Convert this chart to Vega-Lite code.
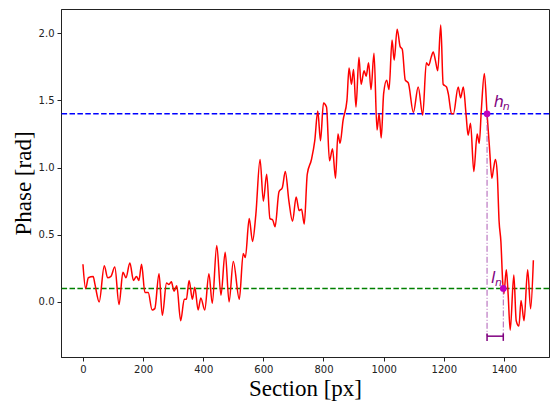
{
  "$schema": "https://vega.github.io/schema/vega-lite/v6.json",
  "width": 488,
  "height": 348,
  "autosize": {"type": "none"},
  "padding": {"left": 61, "top": 9, "right": 1, "bottom": 44},
  "background": "white",
  "config": {
    "view": {"stroke": "#222", "strokeWidth": 1},
    "axis": {
      "grid": false,
      "domainColor": "#222",
      "tickColor": "#222",
      "labelColor": "#222",
      "labelFont": "DejaVu Sans",
      "labelFontSize": 10,
      "tickSize": 4,
      "labelPadding": 3,
      "titleFont": "Liberation Serif",
      "titleFontSize": 23,
      "titleFontWeight": "normal",
      "titleColor": "black"
    }
  },
  "datasets": {
    "signal": [
      {"x": 0, "y": 0.28}, {"x": 9, "y": 0.10}, {"x": 18, "y": 0.18}, {"x": 34, "y": 0.19}, {"x": 40, "y": 0.13},
      {"x": 54, "y": 0.0}, {"x": 71, "y": 0.27}, {"x": 82, "y": 0.18}, {"x": 93, "y": 0.19}, {"x": 106, "y": 0.26},
      {"x": 120, "y": -0.02}, {"x": 133, "y": 0.22}, {"x": 143, "y": 0.18}, {"x": 156, "y": 0.29}, {"x": 168, "y": 0.16},
      {"x": 178, "y": 0.19}, {"x": 186, "y": 0.16}, {"x": 195, "y": 0.28}, {"x": 206, "y": 0.07}, {"x": 217, "y": 0.07},
      {"x": 230, "y": -0.06}, {"x": 239, "y": -0.05}, {"x": 253, "y": 0.21}, {"x": 264, "y": -0.10}, {"x": 278, "y": 0.14},
      {"x": 286, "y": 0.13}, {"x": 294, "y": 0.15}, {"x": 303, "y": 0.08}, {"x": 312, "y": 0.12}, {"x": 325, "y": -0.14},
      {"x": 337, "y": 0.02}, {"x": 344, "y": 0.02}, {"x": 353, "y": 0.16}, {"x": 364, "y": 0.02}, {"x": 372, "y": 0.11},
      {"x": 383, "y": -0.06}, {"x": 392, "y": 0.03}, {"x": 405, "y": -0.06}, {"x": 419, "y": 0.21}, {"x": 430, "y": -0.01},
      {"x": 445, "y": 0.42}, {"x": 459, "y": 0.05}, {"x": 473, "y": 0.37}, {"x": 486, "y": 0.0}, {"x": 500, "y": 0.30},
      {"x": 520, "y": 0.02}, {"x": 533, "y": 0.36}, {"x": 540, "y": 0.33}, {"x": 553, "y": 0.62}, {"x": 564, "y": 0.45},
      {"x": 575, "y": 0.65}, {"x": 589, "y": 1.06}, {"x": 600, "y": 0.75}, {"x": 611, "y": 0.95}, {"x": 622, "y": 0.62},
      {"x": 631, "y": 0.61}, {"x": 639, "y": 0.56}, {"x": 652, "y": 0.82}, {"x": 663, "y": 0.85}, {"x": 673, "y": 0.97},
      {"x": 685, "y": 0.75}, {"x": 697, "y": 0.60}, {"x": 709, "y": 0.78}, {"x": 719, "y": 0.68}, {"x": 727, "y": 0.69},
      {"x": 736, "y": 0.58}, {"x": 746, "y": 0.95}, {"x": 760, "y": 1.06}, {"x": 771, "y": 1.20}, {"x": 781, "y": 1.42},
      {"x": 790, "y": 1.20}, {"x": 800, "y": 1.48}, {"x": 810, "y": 1.45}, {"x": 820, "y": 1.05}, {"x": 830, "y": 1.14},
      {"x": 840, "y": 0.92}, {"x": 848, "y": 1.25}, {"x": 855, "y": 1.18}, {"x": 865, "y": 1.35}, {"x": 878, "y": 1.50},
      {"x": 885, "y": 1.74}, {"x": 893, "y": 1.62}, {"x": 900, "y": 1.73}, {"x": 908, "y": 1.45}, {"x": 918, "y": 1.82},
      {"x": 925, "y": 1.62}, {"x": 935, "y": 1.72}, {"x": 942, "y": 1.68}, {"x": 950, "y": 1.78}, {"x": 958, "y": 1.58},
      {"x": 968, "y": 1.85}, {"x": 978, "y": 1.28}, {"x": 985, "y": 1.40}, {"x": 992, "y": 1.22}, {"x": 1000, "y": 1.55},
      {"x": 1010, "y": 1.65}, {"x": 1018, "y": 1.58}, {"x": 1028, "y": 1.95}, {"x": 1035, "y": 1.80}, {"x": 1045, "y": 2.03},
      {"x": 1055, "y": 1.90}, {"x": 1062, "y": 1.88}, {"x": 1072, "y": 1.65}, {"x": 1082, "y": 1.63}, {"x": 1099, "y": 1.41},
      {"x": 1115, "y": 1.60}, {"x": 1130, "y": 1.39}, {"x": 1142, "y": 1.78}, {"x": 1150, "y": 1.76}, {"x": 1158, "y": 1.82},
      {"x": 1165, "y": 1.86}, {"x": 1172, "y": 1.80}, {"x": 1180, "y": 1.72}, {"x": 1190, "y": 2.06}, {"x": 1198, "y": 1.62},
      {"x": 1209, "y": 1.60}, {"x": 1215, "y": 1.55}, {"x": 1226, "y": 1.40}, {"x": 1232, "y": 1.40}, {"x": 1248, "y": 1.60},
      {"x": 1256, "y": 1.52}, {"x": 1265, "y": 1.60}, {"x": 1274, "y": 1.40}, {"x": 1281, "y": 1.24}, {"x": 1289, "y": 1.33},
      {"x": 1300, "y": 0.97}, {"x": 1311, "y": 1.25}, {"x": 1318, "y": 1.18}, {"x": 1325, "y": 1.43}, {"x": 1335, "y": 1.70},
      {"x": 1344, "y": 1.40}, {"x": 1352, "y": 1.15}, {"x": 1360, "y": 0.92}, {"x": 1366, "y": 1.00}, {"x": 1372, "y": 1.06},
      {"x": 1378, "y": 0.95}, {"x": 1384, "y": 0.60}, {"x": 1390, "y": 0.45}, {"x": 1396, "y": 0.15}, {"x": 1400, "y": 0.06},
      {"x": 1408, "y": 0.24}, {"x": 1414, "y": 0.06}, {"x": 1421, "y": -0.21}, {"x": 1433, "y": 0.20}, {"x": 1441, "y": -0.14},
      {"x": 1450, "y": -0.18}, {"x": 1457, "y": 0.01}, {"x": 1467, "y": -0.14}, {"x": 1479, "y": 0.24}, {"x": 1489, "y": -0.05},
      {"x": 1498, "y": 0.31}
    ],
    "levels": [
      {"level": "high", "y": 1.4},
      {"level": "low", "y": 0.1}
    ],
    "markers": [
      {"name": "h", "x": 1344, "y": 1.4},
      {"name": "l", "x": 1398, "y": 0.1}
    ],
    "bracket": [
      {"x": 1344, "x2": 1398, "y": -0.255}
    ],
    "caps": [
      {"x": 1344, "y": -0.235, "y2": -0.29},
      {"x": 1398, "y": -0.235, "y2": -0.29}
    ],
    "labels": [
      {"main": "h", "sub": "n", "x": 1366, "y": 1.45},
      {"main": "l", "sub": "n", "x": 1357, "y": 0.14}
    ]
  },
  "layer": [
    {
      "data": {"name": "levels"},
      "mark": {"type": "rule", "strokeWidth": 1.5, "strokeDash": [5.5, 2.4]},
      "encoding": {
        "y": {"field": "y", "type": "quantitative", "scale": {"domain": [-0.41, 2.18], "nice": false, "zero": false}},
        "color": {"field": "level", "type": "nominal", "scale": {"domain": ["high", "low"], "range": ["#0000ff", "#008000"]}, "legend": null}
      }
    },
    {
      "data": {"name": "signal"},
      "mark": {"type": "line", "color": "#ff0000", "strokeWidth": 1.5, "interpolate": "monotone", "clip": true},
      "encoding": {
        "x": {"field": "x", "type": "quantitative", "scale": {"domain": [-73, 1550], "nice": false, "zero": false},
              "axis": {"values": [0, 200, 400, 600, 800, 1000, 1200, 1400], "format": "d", "title": "Section [px]", "titlePadding": 3}},
        "y": {"field": "y", "type": "quantitative",
              "axis": {"values": [0, 0.5, 1, 1.5, 2], "format": ".1f", "title": "Phase [rad]", "titlePadding": 3}}
      }
    },
    {
      "data": {"name": "markers"},
      "mark": {"type": "rule", "color": "#a040a8", "opacity": 0.85, "strokeWidth": 1, "strokeDash": [6, 2, 1, 2]},
      "encoding": {
        "x": {"field": "x", "type": "quantitative"},
        "y": {"field": "y", "type": "quantitative"},
        "y2": {"datum": -0.255}
      }
    },
    {
      "data": {"name": "bracket"},
      "mark": {"type": "rule", "color": "#800080", "strokeWidth": 1.5},
      "encoding": {
        "x": {"field": "x", "type": "quantitative"},
        "x2": {"field": "x2"},
        "y": {"field": "y", "type": "quantitative"}
      }
    },
    {
      "data": {"name": "caps"},
      "mark": {"type": "rule", "color": "#800080", "strokeWidth": 1.5},
      "encoding": {
        "x": {"field": "x", "type": "quantitative"},
        "y": {"field": "y", "type": "quantitative"},
        "y2": {"field": "y2"}
      }
    },
    {
      "data": {"name": "markers"},
      "mark": {"type": "point", "filled": true, "color": "#bf00bf", "size": 45, "opacity": 1},
      "encoding": {
        "x": {"field": "x", "type": "quantitative"},
        "y": {"field": "y", "type": "quantitative"}
      }
    },
    {
      "data": {"name": "labels"},
      "mark": {"type": "text", "color": "#800080", "font": "DejaVu Sans", "fontStyle": "italic", "fontSize": 16, "align": "left", "baseline": "alphabetic"},
      "encoding": {
        "x": {"field": "x", "type": "quantitative"},
        "y": {"field": "y", "type": "quantitative"},
        "text": {"field": "main"}
      }
    },
    {
      "data": {"name": "labels"},
      "transform": [{"filter": "datum.main === 'h'"}],
      "mark": {"type": "text", "color": "#800080", "font": "DejaVu Sans", "fontStyle": "italic", "fontSize": 11, "align": "left", "baseline": "alphabetic", "dx": 9, "dy": 3},
      "encoding": {
        "x": {"field": "x", "type": "quantitative"},
        "y": {"field": "y", "type": "quantitative"},
        "text": {"field": "sub"}
      }
    },
    {
      "data": {"name": "labels"},
      "transform": [{"filter": "datum.main === 'l'"}],
      "mark": {"type": "text", "color": "#800080", "font": "DejaVu Sans", "fontStyle": "italic", "fontSize": 11, "align": "left", "baseline": "alphabetic", "dx": 4, "dy": 3},
      "encoding": {
        "x": {"field": "x", "type": "quantitative"},
        "y": {"field": "y", "type": "quantitative"},
        "text": {"field": "sub"}
      }
    }
  ]
}
